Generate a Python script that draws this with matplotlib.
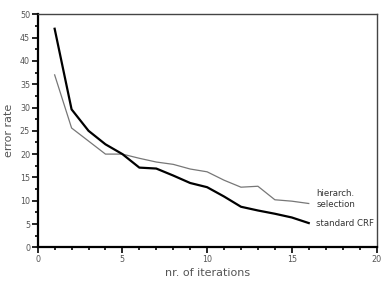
import matplotlib
matplotlib.use("Agg")
import matplotlib.pyplot as plt
from matplotlib.ticker import MultipleLocator

# values
iterations = [1, 2, 3, 4, 5, 6, 7, 8, 9, 10, 11, 12, 13, 14, 15, 16]
standard_crf = [46.9, 29.6, 25.0, 22.1, 20.0, 17.1, 16.9, 15.4, 13.8, 12.9,
                10.9, 8.7, 7.9, 7.2, 6.4, 5.2]
hierarch_sel = [37.0, 25.6, 22.8, 20.0, 20.0, 19.1, 18.3, 17.8, 16.8, 16.2,
                14.4, 12.9, 13.1, 10.2, 9.9, 9.4]

text_grey = "#555555"

fig = plt.figure(figsize=(3.81, 2.84), dpi=100)
ax = fig.add_axes([37.7 / 381, 1 - 247.3 / 284, (376.5 - 37.7) / 381, (247.3 - 14.3) / 284])

ax.plot(iterations, hierarch_sel, color="#777777", lw=0.9)
ax.plot(iterations, standard_crf, color="black", lw=1.6)

ax.text(16.45, 10.4, "hierarch.\nselection", fontsize=6.2, color="#333333",
        va="center", ha="left", linespacing=1.3)
ax.text(16.45, 5.0, "standard CRF", fontsize=6.2, color="#333333",
        va="center", ha="left")

ax.set_xlim(0, 20)
ax.set_ylim(0, 50)
ax.xaxis.set_major_locator(MultipleLocator(5))
ax.xaxis.set_minor_locator(MultipleLocator(1))
ax.yaxis.set_major_locator(MultipleLocator(5))
ax.yaxis.set_minor_locator(MultipleLocator(2.5))

ax.tick_params(which="major", length=4, width=1.2, labelsize=5.8,
               labelcolor=text_grey, pad=1.5)
ax.tick_params(which="minor", length=2.5, width=1.2)
ax.tick_params(axis="x", which="both", direction="out")
ax.tick_params(axis="y", which="both", direction="out")

for side in ["left", "bottom"]:
    ax.spines[side].set_linewidth(1.6)
for side in ["top", "right"]:
    ax.spines[side].set_linewidth(1.0)
    ax.spines[side].set_color("#444444")

ax.set_xlabel("nr. of iterations", fontsize=8, color=text_grey, labelpad=3)
ax.set_ylabel("error rate", fontsize=8, color=text_grey, labelpad=4)

fig.savefig("out.png", dpi=100)
